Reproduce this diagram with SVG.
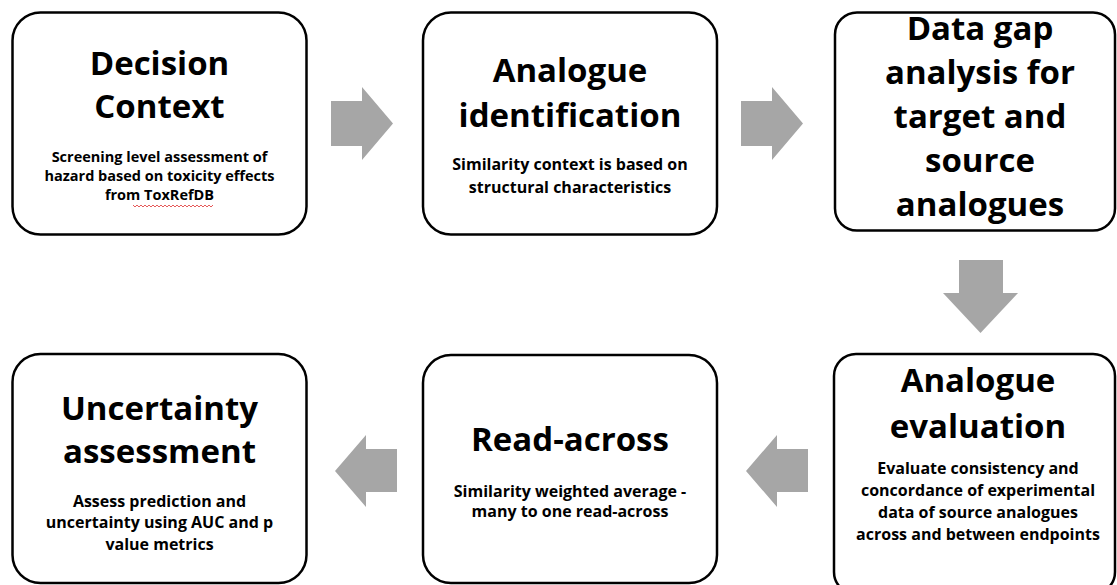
<svg xmlns="http://www.w3.org/2000/svg" width="1117" height="585" viewBox="0 0 1117 585">
<style>
.box{fill:#fff;stroke:#000;stroke-width:2.5}
.t{font-family:"Open Sans","DejaVu Sans",sans-serif;font-weight:700;font-size:33px;fill:#000;text-anchor:middle}
.s{font-family:"Open Sans","DejaVu Sans",sans-serif;font-weight:700;font-size:16px;fill:#000;text-anchor:middle}
.s1{font-size:14.5px}
.arr{fill:#a6a6a6}
</style>
<rect width="1117" height="585" fill="#fff"/>
<g id="connectors">
<polygon class="arr" points="331,101 362,101 362,87 393,123.5 362,160 362,146 331,146"/>
<polygon class="arr" points="741,101 772,101 772,87 803,123.5 772,160 772,146 741,146"/>
<polygon class="arr" points="959,260 1003,260 1003,293 1018,293 980.5,333 943,293 959,293"/>
<polygon class="arr" points="808,449 777,449 777,435 746,471 777,507 777,492 808,492"/>
<polygon class="arr" points="397,449 366,449 366,435 335,471 366,507 366,492 397,492"/>
</g>
<g id="node-decision-context">
<rect class="box" x="12.5" y="12.5" width="294" height="222" rx="28"/>
<text class="t" x="159.5" y="75">Decision</text>
<text class="t" x="159.5" y="118">Context</text>
<text class="s s1" x="159.5" y="162">Screening level assessment of</text>
<text class="s s1" x="159.5" y="181">hazard based on toxicity effects</text>
<text class="s s1" x="159.5" y="200">from ToxRefDB</text>
<path d="M133,205 l2,2 l2,-2 l2,2 l2,-2 l2,2 l2,-2 l2,2 l2,-2 l2,2 l2,-2 l2,2 l2,-2 l2,2 l2,-2 l2,2 l2,-2 l2,2 l2,-2 l2,2 l2,-2 l2,2 l2,-2 l2,2 l2,-2 l2,2 l2,-2 l2,2 l2,-2 l2,2 l2,-2 l2,2 l2,-2 l2,2 l2,-2 l2,2 l2,-2 l2,2 l2,-2 l2,2 l2,-2" fill="none" stroke="#e03030" stroke-width="0.8"/>
</g>
<g id="node-analogue-identification">
<rect class="box" x="423" y="12.5" width="294" height="222" rx="28"/>
<text class="t" x="570" y="82">Analogue</text>
<text class="t" x="570" y="127">identification</text>
<text class="s" x="570" y="170">Similarity context is based on</text>
<text class="s" x="570" y="193">structural characteristics</text>
</g>
<g id="node-data-gap-analysis">
<rect class="box" x="835" y="12.5" width="280" height="218" rx="22"/>
<text class="t" x="980" y="40">Data gap</text>
<text class="t" x="980" y="84">analysis for</text>
<text class="t" x="980" y="128">target and</text>
<text class="t" x="980" y="172">source</text>
<text class="t" x="980" y="216">analogues</text>
</g>
<g id="node-analogue-evaluation">
<rect class="box" x="834" y="354" width="281" height="240" rx="22"/>
<text class="t" x="978" y="392">Analogue</text>
<text class="t" x="978" y="438">evaluation</text>
<text class="s" x="978" y="474">Evaluate consistency and</text>
<text class="s" x="978" y="496">concordance of experimental</text>
<text class="s" x="978" y="518">data of source analogues</text>
<text class="s" x="978" y="540">across and between endpoints</text>
</g>
<g id="node-read-across">
<rect class="box" x="423" y="355" width="294" height="228" rx="28"/>
<text class="t" x="570" y="451">Read-across</text>
<text class="s" x="570" y="497">Similarity weighted average -</text>
<text class="s" x="570" y="517">many to one read-across</text>
</g>
<g id="node-uncertainty-assessment">
<rect class="box" x="12.5" y="354" width="294" height="229" rx="28"/>
<text class="t" x="159.5" y="420">Uncertainty</text>
<text class="t" x="159.5" y="463">assessment</text>
<text class="s" x="159.5" y="507">Assess prediction and</text>
<text class="s" x="159.5" y="528">uncertainty using AUC and p</text>
<text class="s" x="159.5" y="550">value metrics</text>
</g>
</svg>
